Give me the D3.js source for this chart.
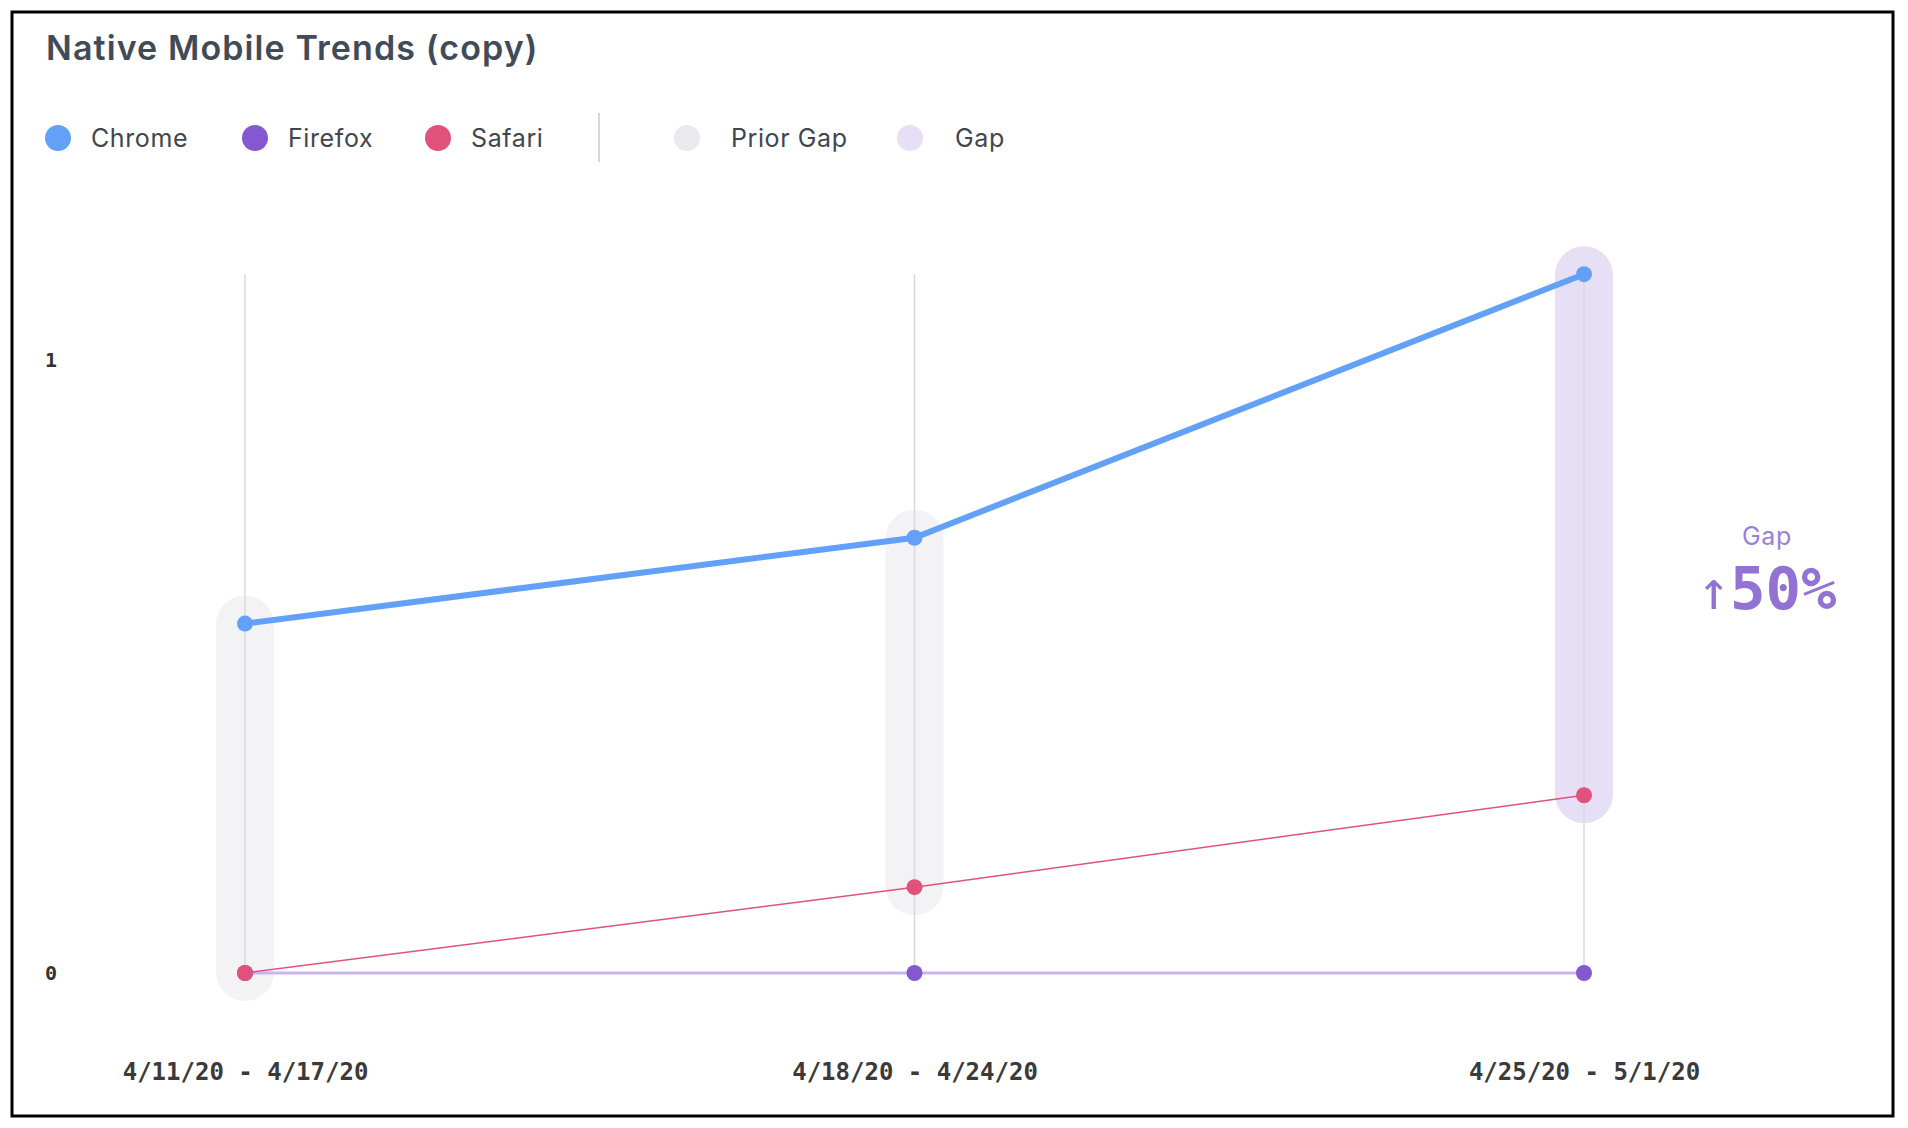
<!DOCTYPE html>
<html>
<head>
<meta charset="utf-8">
<script src="https://cdn.jsdelivr.net/npm/d3@7"></script>
<style>
  body { margin: 0; background: #fff; }
  svg { display: block; }
</style>
</head>
<body>
<svg id="chart" width="1908" height="1128"></svg>
<script>
// data
let weeks = ['4/11/20 - 4/17/20', '4/18/20 - 4/24/20', '4/25/20 - 5/1/20']
let chrome = [0.57, 0.71, 1.14]
let firefox = [0, 0, 0]
let safari = [0, 0.14, 0.29]
let yTicks = [0, 1]
let gapLabel = 'Gap'
let gapChange = '50%'

let series = [
  { name: 'Firefox', values: firefox, color: '#8459cf', lineColor: '#c8b5ee', width: 3 },
  { name: 'Safari', values: safari, color: '#e0527c', lineColor: '#e0527c', width: 1.5 },
  { name: 'Chrome', values: chrome, color: '#63a1f8', lineColor: '#63a1f8', width: 6 }
]

let legendItems = [
  { name: 'Chrome', color: '#63a1f8', x: 58, off: 33 },
  { name: 'Firefox', color: '#8459cf', x: 255, off: 33 },
  { name: 'Safari', color: '#e0527c', x: 438, off: 33 },
  { name: 'Prior Gap', color: '#e9e9ee', x: 687, off: 44 },
  { name: 'Gap', color: '#e6dff5', x: 910, off: 45 }
]

let svg = d3.select('#chart')

// frame
svg.append('rect')
  .attr('x', 12).attr('y', 12)
  .attr('width', 1881).attr('height', 1104)
  .style('fill', '#fff')
  .style('stroke', '#000')
  .style('stroke-width', 3)

svg.append('text')
  .attr('x', 46).attr('y', 60)
  .text('Native Mobile Trends (copy)')
  .style('font-family', 'Inter, sans-serif')
  .style('font-weight', 600)
  .style('font-size', '34px')
  .style('letter-spacing', '1.1px')
  .style('fill', '#414b57')

// legend
let legend = svg.append('g').attr('id', 'legend')
legend.selectAll('circle')
  .data(legendItems)
  .join('circle')
  .attr('cx', d => d.x)
  .attr('cy', 138)
  .attr('r', 13)
  .style('fill', d => d.color)
legend.selectAll('text')
  .data(legendItems)
  .join('text')
  .attr('x', d => d.x + d.off)
  .attr('y', 138)
  .attr('dy', '0.35em')
  .text(d => d.name)
  .style('font-family', 'Inter, sans-serif')
  .style('font-size', '25px')
  .style('letter-spacing', '0.6px')
  .style('fill', '#3f4650')
legend.append('line')
  .attr('x1', 599).attr('x2', 599)
  .attr('y1', 113).attr('y2', 162)
  .style('stroke', '#d6d6e2')
  .style('stroke-width', 2)

// scales
let x = d3.scalePoint().domain(weeks).range([245, 1584])
let y = d3.scaleLinear().domain([0, 1]).range([973, 360])

// gap bands: between top series and second series
let gaps = weeks.map((w, i) => {
  let vals = [chrome[i], firefox[i], safari[i]].sort((a, b) => b - a)
  return { week: w, top: vals[0], bottom: vals[1], last: i === weeks.length - 1 }
})
let pad = 28
svg.append('g')
  .attr('id', 'gaps')
  .selectAll('rect')
  .data(gaps)
  .join('rect')
  .attr('x', d => x(d.week) - 29)
  .attr('width', 58)
  .attr('y', d => y(d.top) - pad)
  .attr('height', d => y(d.bottom) - y(d.top) + pad * 2)
  .attr('rx', 29)
  .style('fill', d => d.last ? '#e6dff5' : '#f3f3f5')

// vertical grid lines
svg.append('g')
  .attr('id', 'grid')
  .selectAll('line')
  .data(weeks)
  .join('line')
  .attr('x1', d => x(d))
  .attr('x2', d => x(d))
  .attr('y1', y(d3.max(chrome)))
  .attr('y2', y(0))
  .style('stroke', '#d8d8e2')
  .style('stroke-width', 1.5)

// lines
let line = d3.line()
  .x((d, i) => x(weeks[i]))
  .y(d => y(d))

let lines = svg.append('g').attr('id', 'lines')
lines.selectAll('path')
  .data(series)
  .join('path')
  .attr('d', d => line(d.values))
  .style('fill', 'none')
  .style('stroke', d => d.lineColor)
  .style('stroke-width', d => d.width)

// points
series.forEach(s => {
  svg.append('g')
    .selectAll('circle')
    .data(s.values)
    .join('circle')
    .attr('cx', (d, i) => x(weeks[i]))
    .attr('cy', d => y(d))
    .attr('r', 8)
    .style('fill', s.color)
})

// y axis
let yAxis = svg.append('g')
  .attr('transform', 'translate(58, 0)')
  .call(d3.axisLeft(y).tickValues(yTicks).tickFormat(d3.format('d')).tickSize(0).tickPadding(0))
yAxis.select('.domain').remove()
yAxis.selectAll('text')
  .style('font-family', '"DejaVu Sans Mono", monospace')
  .style('font-size', '20px')
  .style('font-weight', 'bold')
  .style('fill', '#333')
  .attr('text-anchor', 'middle')
  .attr('x', -7)

// x axis
let xAxis = svg.append('g')
  .attr('transform', 'translate(0, 1063)')
  .call(d3.axisBottom(x).tickSize(0).tickPadding(0))
xAxis.select('.domain').remove()
xAxis.selectAll('text')
  .style('font-family', '"DejaVu Sans Mono", monospace')
  .style('font-size', '24px')
  .style('font-weight', 'bold')
  .style('fill', '#3a3a3a')

// gap annotation
let ann = svg.append('g').attr('transform', 'translate(1767, 0)')
ann.append('text')
  .attr('y', 545)
  .attr('text-anchor', 'middle')
  .text(gapLabel)
  .style('font-family', 'Inter, sans-serif')
  .style('font-size', '25px')
  .style('letter-spacing', '0.6px')
  .style('fill', '#9a7fd6')
let big = ann.append('text')
  .attr('y', 609)
  .attr('text-anchor', 'middle')
  .style('fill', '#9272d2')
  .style('font-family', '"DejaVu Sans Mono", monospace')
  .style('font-weight', 'bold')
big.append('tspan')
  .text('\u2191')
  .style('font-size', '54px')
  .style('font-weight', 'normal')
big.append('tspan')
  .text(gapChange)
  .style('font-size', '59px')
</script>
</body>
</html>
